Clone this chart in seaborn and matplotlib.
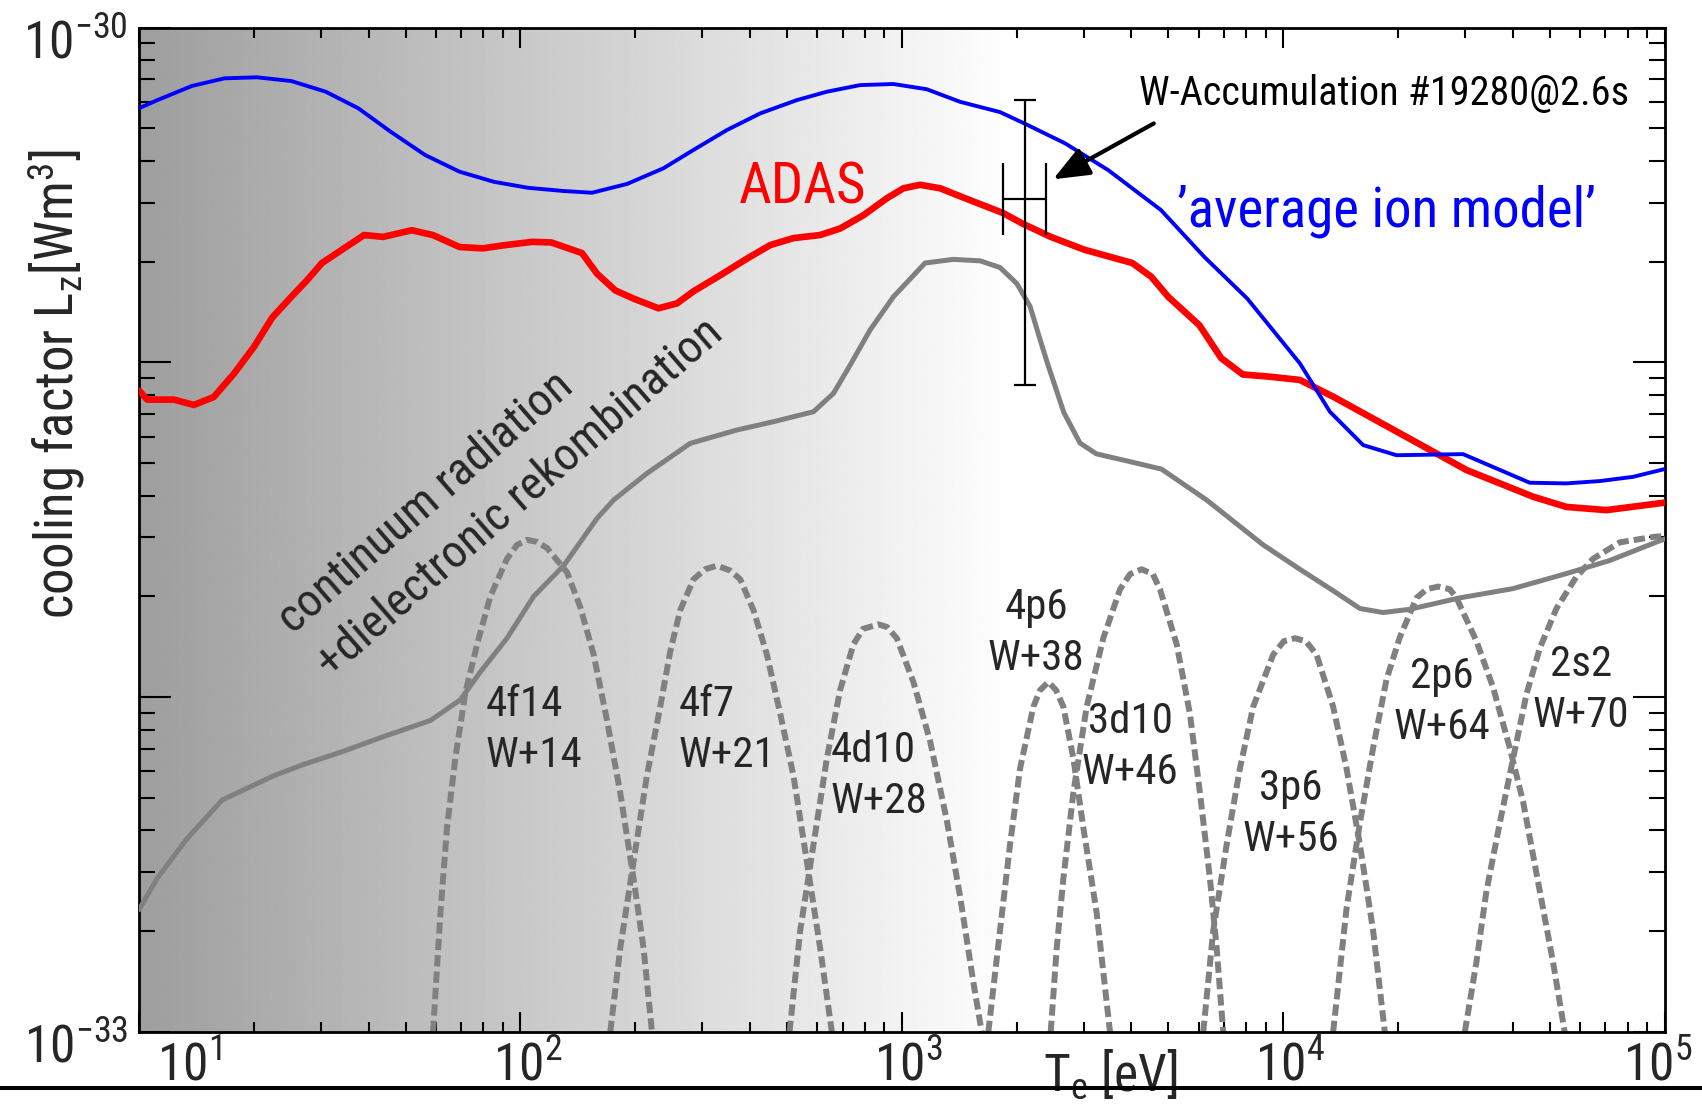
import numpy as np
import matplotlib
matplotlib.use("Agg")
import matplotlib.pyplot as plt
import seaborn as sns
from matplotlib import font_manager as fm
from matplotlib.lines import Line2D
from matplotlib.transforms import ScaledTranslation
from matplotlib.ticker import LogLocator, NullFormatter

# ---------------- data (Te in eV, Lz in W m^3) ----------------
te_blue = [10.0, 11.17, 13.76, 16.74, 20.37, 25.08, 30.87, 37.56, 45.72, 56.27, 69.24, 85.26,
           104.9, 129.2, 154.0, 190.3, 237.3, 284.4, 347.8, 425.3, 530.7, 636.1, 777.6, 950.7,
           1163, 1421, 1809, 2096, 2679, 3478, 4781, 6198, 8052, 11060, 13260, 16210, 19830,
           29630, 44310, 55300, 67600, 82640, 100000]
lz_blue = [5.74e-31, 6.07e-31, 6.69e-31, 7.05e-31, 7.10e-31, 6.92e-31, 6.43e-31, 5.74e-31,
           4.88e-31, 4.16e-31, 3.71e-31, 3.46e-31, 3.32e-31, 3.25e-31, 3.21e-31, 3.41e-31,
           3.80e-31, 4.31e-31, 4.94e-31, 5.54e-31, 6.07e-31, 6.43e-31, 6.73e-31, 6.78e-31,
           6.54e-31, 6.00e-31, 5.59e-31, 5.17e-31, 4.51e-31, 3.75e-31, 2.85e-31, 2.07e-31,
           1.55e-31, 9.93e-32, 7.12e-32, 5.66e-32, 5.28e-32, 5.32e-32, 4.37e-32, 4.35e-32,
           4.42e-32, 4.55e-32, 4.80e-32]

te_adas = [10.0, 10.51, 12.34, 13.92, 15.70, 17.72, 19.99, 22.34, 24.95, 27.59, 30.17, 38.90,
           43.64, 51.89, 58.93, 69.24, 79.55, 91.41, 107.4, 120.6, 145.0, 158.8, 177.3, 198.0,
           230.2, 257.3, 284.4, 334.1, 392.5, 451.9, 519.9, 610.8, 689.0, 793.3, 913.5, 1010,
           1117, 1260, 1510, 1846, 2067, 2457, 3009, 4022, 4511, 4994, 6032, 6875, 7836, 9229,
           11060, 13520, 20220, 30240, 45200, 55300, 70400, 100000]
lz_adas = [8.23e-32, 7.74e-32, 7.74e-32, 7.46e-32, 7.88e-32, 9.24e-32, 1.11e-31, 1.36e-31,
           1.56e-31, 1.76e-31, 1.98e-31, 2.40e-31, 2.37e-31, 2.48e-31, 2.40e-31, 2.21e-31,
           2.19e-31, 2.24e-31, 2.29e-31, 2.28e-31, 2.12e-31, 1.84e-31, 1.64e-31, 1.55e-31,
           1.45e-31, 1.50e-31, 1.63e-31, 1.82e-31, 2.04e-31, 2.24e-31, 2.35e-31, 2.40e-31,
           2.51e-31, 2.75e-31, 3.09e-31, 3.31e-31, 3.39e-31, 3.31e-31, 3.05e-31, 2.79e-31,
           2.60e-31, 2.37e-31, 2.17e-31, 1.98e-31, 1.80e-31, 1.57e-31, 1.29e-31, 1.03e-31,
           9.20e-32, 9.06e-32, 8.86e-32, 7.90e-32, 6.14e-32, 4.77e-32, 3.97e-32, 3.70e-32,
           3.62e-32, 3.81e-32]

te_cont = [10.0, 11.16, 13.38, 16.52, 22.56, 27.03, 34.42, 42.95, 58.06, 69.57, 78.52, 92.2,
           108.3, 129.8, 158.8, 175.5, 214.6, 278.8, 369.5, 460.9, 586.7, 662.0, 732.0, 826.0,
           950.7, 1151, 1365, 1604, 1809, 2002, 2169, 2304, 2411, 2660, 2933, 3237, 3942, 4796,
           6300, 8864, 11060, 13520, 15890, 18280, 21480, 29050, 40060, 55300, 71810, 100000]
lz_cont = [2.32e-33, 2.88e-33, 3.79e-33, 4.93e-33, 5.83e-33, 6.30e-33, 6.90e-33, 7.57e-33,
           8.52e-33, 9.82e-33, 1.19e-32, 1.50e-32, 2.00e-32, 2.47e-32, 3.42e-32, 3.88e-32,
           4.66e-32, 5.73e-32, 6.28e-32, 6.65e-32, 7.12e-32, 8.08e-32, 9.81e-32, 1.25e-31,
           1.57e-31, 1.98e-31, 2.03e-31, 2.01e-31, 1.92e-31, 1.72e-31, 1.47e-31, 1.17e-31,
           9.91e-32, 7.08e-32, 5.74e-32, 5.33e-32, 5.06e-32, 4.80e-32, 3.88e-32, 2.85e-32,
           2.41e-32, 2.08e-32, 1.84e-32, 1.79e-32, 1.83e-32, 1.98e-32, 2.11e-32, 2.34e-32,
           2.56e-32, 2.97e-32]

# ionisation-stage shells (dashed)
te_4f14 = [59.0, 61.7, 64.2, 67.5, 71.7, 77.0, 83.4, 92.2, 97.97, 104.1, 110.5, 117.4, 132.5,
           143.5, 155.6, 168.6, 182.7, 198.0, 210.3, 221.3]
lz_4f14 = [1.0e-33, 2.27e-33, 4.09e-33, 6.58e-33, 1.03e-32, 1.44e-32, 2.00e-32, 2.59e-32,
           2.85e-32, 2.95e-32, 2.91e-32, 2.79e-32, 2.36e-32, 1.86e-32, 1.34e-32, 8.54e-33,
           5.18e-33, 2.87e-33, 1.78e-33, 1.0e-33]

te_4f7 = [172.0, 182.7, 198.0, 214.6, 232.6, 247.1, 262.4, 284.4, 305.1, 327.5, 354.8, 376.9,
          408.4, 442.9, 479.9, 519.9, 563.7, 610.8, 655.6]
lz_4f7 = [1.0e-33, 1.78e-33, 3.23e-33, 5.83e-33, 9.37e-33, 1.37e-32, 1.82e-32, 2.25e-32,
          2.41e-32, 2.47e-32, 2.39e-32, 2.25e-32, 1.82e-32, 1.34e-32, 8.93e-33, 5.83e-33,
          3.23e-33, 1.78e-33, 1.0e-33]

te_4d10 = [507.6, 541.5, 586.7, 636.1, 689.0, 746.8, 791.8, 868.2, 914.9, 970.3, 1072.5,
           1186.5, 1312, 1421, 1540, 1620]
lz_4d10 = [1.0e-33, 2.01e-33, 3.63e-33, 6.57e-33, 1.05e-32, 1.44e-32, 1.60e-32, 1.65e-32,
           1.62e-32, 1.50e-32, 1.11e-32, 7.39e-33, 4.29e-33, 2.55e-33, 1.41e-33, 1.0e-33]

te_4p6 = [1686, 1809, 1922, 2042, 2213, 2304, 2423, 2537, 2652, 2817, 2991, 3243, 3515]
lz_4p6 = [1.0e-33, 2.01e-33, 3.63e-33, 6.12e-33, 9.37e-33, 1.05e-32, 1.11e-32, 1.05e-32,
          9.37e-33, 6.57e-33, 4.09e-33, 2.27e-33, 1.0e-33]

te_3d10 = [2457, 2548, 2652, 2817, 3053, 3375, 3734, 3966, 4256, 4555, 4753, 5256, 5694,
           6050, 6427, 6692, 6963]
lz_3d10 = [1.0e-33, 1.78e-33, 2.87e-33, 5.18e-33, 9.37e-33, 1.50e-32, 2.10e-32, 2.33e-32,
           2.41e-32, 2.33e-32, 2.10e-32, 1.44e-32, 8.93e-33, 5.18e-33, 2.87e-33, 1.78e-33,
           1.0e-33]

te_3p6 = [6172, 6556, 7108, 7700, 8345, 9414, 10040, 10730, 11470, 12230, 13520, 14660,
          15890, 17210, 18470]
lz_3p6 = [1.0e-33, 2.01e-33, 3.63e-33, 6.12e-33, 9.37e-33, 1.34e-32, 1.47e-32, 1.50e-32,
          1.47e-32, 1.34e-32, 9.37e-33, 6.12e-33, 3.63e-33, 2.01e-33, 1.0e-33]

te_2p6 = [13520, 14660, 15890, 17210, 18660, 20220, 22370, 23760, 25490, 27350, 28470, 32120,
          35510, 39280, 42560, 47070, 50990, 54720]
lz_2p6 = [1.0e-33, 2.34e-33, 4.21e-33, 7.05e-33, 1.13e-32, 1.51e-32, 1.98e-32, 2.10e-32,
          2.14e-32, 2.10e-32, 1.98e-32, 1.47e-32, 1.07e-32, 7.05e-33, 4.88e-33, 2.64e-33,
          1.62e-33, 1.0e-33]

te_2s2 = [29940, 32120, 34120, 36980, 40060, 43440, 47070, 52060, 58740, 64940, 76270,
          93240, 100000]
lz_2s2 = [1.0e-33, 1.62e-33, 2.64e-33, 4.21e-33, 6.55e-33, 1.02e-32, 1.40e-32, 1.84e-32,
          2.29e-32, 2.59e-32, 2.90e-32, 3.01e-32, 3.03e-32]

shell_labels = ["4f14\nW+14", "4f7\nW+21", "4d10\nW+28", "4p6\nW+38", "3d10\nW+46",
                "3p6\nW+56", "2p6\nW+64", "2s2\nW+70"]
shell_label_te = [80.9, 259.9, 650.4, 2249, 3966, 10480, 26060, 60270]
shell_label_lz = [7.97e-33, 7.97e-33, 5.81e-33, 1.558e-32, 7.10e-33, 4.48e-33, 9.67e-33, 1.05e-32]
shell_label_ha = ["left", "left", "left", "center", "center", "center", "center", "center"]

# measurement (W-accumulation)
meas_te, meas_te_lo, meas_te_hi = 2098, 1843, 2389
meas_lz, meas_lz_lo, meas_lz_hi = 3.07e-31, 8.55e-32, 6.07e-31

x_ticks = [1e1, 1e2, 1e3, 1e4, 1e5]
x_ticklabels = [r"$\mathregular{10^{1}}$", r"$\mathregular{10^{2}}$", r"$\mathregular{10^{3}}$",
                r"$\mathregular{10^{4}}$", r"$\mathregular{10^{5}}$"]
y_ticks = [1e-33, 1e-32, 1e-31, 1e-30]
y_ticklabels = [r"$\mathregular{10^{-33}}$", "", "", r"$\mathregular{10^{-30}}$"]

# ---------------- font choice: a narrow sans if one is installed ----------------
sns.set_style("ticks")
ttf = fm.fontManager.ttflist
names = {f.name for f in ttf}
FONT, STRETCH, SCALE = None, "normal", 1.0
for n in ["Liberation Sans Narrow", "Roboto Condensed", "Open Sans Condensed",
          "Noto Sans Condensed", "Arial Narrow", "Nimbus Sans Narrow", "Lato Condensed"]:
    if n in names:
        FONT = n
        break
if FONT is None:
    cond = [f for f in ttf if f.stretch in ("condensed", "semi-condensed", "extra-condensed")
            and f.style == "normal" and f.weight in (400, "normal", "regular")]
    pref = [f for f in cond if f.name in ("DejaVu Sans", "Noto Sans", "Open Sans", "Roboto")]
    if pref or cond:
        f0 = (pref or cond)[0]
        FONT, STRETCH = f0.name, f0.stretch
if FONT is None:
    FONT, SCALE = "Roboto", 0.9
plt.rcParams["font.family"] = [FONT, "DejaVu Sans"]
plt.rcParams["font.stretch"] = STRETCH
plt.rcParams["mathtext.fontset"] = "custom"
plt.rcParams["mathtext.rm"] = FONT
plt.rcParams["mathtext.it"] = FONT
plt.rcParams["mathtext.bf"] = FONT


def fs(v):
    return v * SCALE


fig = plt.figure(figsize=(17.02, 11.09), dpi=100)
pos = [0.0817, 0.0694, 0.8963, 0.9058]

# gradient background (behind the data axes)
bg = fig.add_axes(pos, zorder=0)
bg.imshow(np.linspace(0.62, 1.0, 512)[None, :], cmap="gray", vmin=0, vmax=1,
          extent=[0, 0.5757, 0, 1], aspect="auto", interpolation="bilinear")
bg.set_xlim(0, 1)
bg.set_ylim(0, 1)
bg.axis("off")

ax = fig.add_axes(pos, zorder=1)
ax.patch.set_alpha(0)
ax.set_xscale("log")
ax.set_yscale("log")

gray = "#808080"
dash = (0, (1.9, 0.85))
shells = [(te_4f14, lz_4f14), (te_4f7, lz_4f7), (te_4d10, lz_4d10), (te_4p6, lz_4p6),
          (te_3d10, lz_3d10), (te_3p6, lz_3p6), (te_2p6, lz_2p6), (te_2s2, lz_2s2)]
for tx, ly in shells:
    sns.lineplot(x=tx, y=ly, ax=ax, color=gray, lw=4.3, linestyle=dash, sort=False,
                 estimator=None, errorbar=None, zorder=2)

sns.lineplot(x=te_cont, y=lz_cont, ax=ax, color=gray, lw=3.6, sort=False,
             estimator=None, errorbar=None, zorder=3)
sns.lineplot(x=te_adas, y=lz_adas, ax=ax, color="#ff0000", lw=4.8, sort=False,
             estimator=None, errorbar=None, zorder=4)
sns.lineplot(x=te_blue, y=lz_blue, ax=ax, color="#0000ff", lw=2.8, sort=False,
             estimator=None, errorbar=None, zorder=5)

# measurement with error bars
ax.errorbar([meas_te], [meas_lz], yerr=[[meas_lz - meas_lz_lo], [meas_lz_hi - meas_lz]],
            fmt="none", ecolor="k", elinewidth=1.6, capsize=8, capthick=1.6, zorder=6)
ax.errorbar([meas_te], [meas_lz], xerr=[[meas_te - meas_te_lo], [meas_te_hi - meas_te]],
            fmt="none", ecolor="k", elinewidth=1.6, capsize=26, capthick=1.6, zorder=6)
ax.annotate("", xy=(2493, 3.52e-31), xytext=(4578, 5.17e-31),
            arrowprops=dict(arrowstyle="-|>,head_length=1.1,head_width=0.45", color="k",
                            lw=3.0, shrinkA=0, shrinkB=0, mutation_scale=20), zorder=7)

ax.set_xlim(10, 1e5)
ax.set_ylim(1e-33, 1e-30)

# texts
ax.text(4197, 5.87e-31, "W-Accumulation #19280@2.6s", fontsize=fs(29), color="k",
        ha="left", va="baseline", zorder=7)
ax.text(549.5, 2.985e-31, "ADAS", fontsize=fs(41), color="#ff0000", ha="center",
        va="baseline")
ax.text(18640, 2.54e-31, "\u2019average ion model\u2019", fontsize=fs(39.5), color="#0000ff",
        ha="center", va="baseline")
ax.text(25.4, 1.53e-32, "continuum radiation", fontsize=fs(34), rotation=41,
        rotation_mode="anchor", ha="left", va="baseline")
ax.text(31.9, 1.135e-32, "+dielectronic rekombination", fontsize=fs(34), rotation=41,
        rotation_mode="anchor", ha="left", va="baseline")
for lab, tx, ly, ha in zip(shell_labels, shell_label_te, shell_label_lz, shell_label_ha):
    ax.text(tx, ly, lab, fontsize=fs(31), ha=ha, va="center", multialignment=ha,
            linespacing=1.3, zorder=7)

# axes decoration
ax.set_xticks(x_ticks)
ax.set_xticklabels(x_ticklabels)
ax.set_yticks(y_ticks)
ax.set_yticklabels(y_ticklabels)
ax.xaxis.set_minor_locator(LogLocator(base=10, subs=np.arange(2, 10), numticks=100))
ax.yaxis.set_minor_locator(LogLocator(base=10, subs=np.arange(2, 10), numticks=100))
ax.xaxis.set_minor_formatter(NullFormatter())
ax.yaxis.set_minor_formatter(NullFormatter())
ax.tick_params(which="both", direction="in", top=True, right=True, color="k", width=1.5,
               labelsize=fs(37))
ax.tick_params(axis="x", which="major", length=14.5, pad=7)
ax.tick_params(axis="x", which="minor", length=7)
ax.tick_params(axis="y", which="major", length=23, pad=8)
ax.tick_params(axis="y", which="minor", length=11.5)
for s in ax.spines.values():
    s.set_linewidth(2)
    s.set_color("k")

ax.set_xlabel(r"T$_\mathregular{e}$ [eV]", fontsize=fs(37))
ax.xaxis.set_label_coords(0.6365, -0.016)
ax.set_ylabel(r"cooling factor L$_\mathregular{z}$[Wm$^\mathregular{3}$]", fontsize=fs(38))
ax.yaxis.set_label_coords(-0.034, 0.645)

# shift tick labels like the original (last one kept inside the canvas)
x_shift_pt = [36, 5, 5, 5, -5]
for lab, dxp in zip(ax.get_xticklabels(), x_shift_pt):
    lab.set_transform(lab.get_transform() + ScaledTranslation(dxp / 72, 0, fig.dpi_scale_trans))
for lab in ax.get_yticklabels():
    lab.set_transform(lab.get_transform() + ScaledTranslation(0, -8 / 72, fig.dpi_scale_trans))

fig.add_artist(Line2D([0, 1], [0.0189, 0.0189], transform=fig.transFigure, color="k", lw=2.9))

fig.savefig("out.png", dpi=100)
